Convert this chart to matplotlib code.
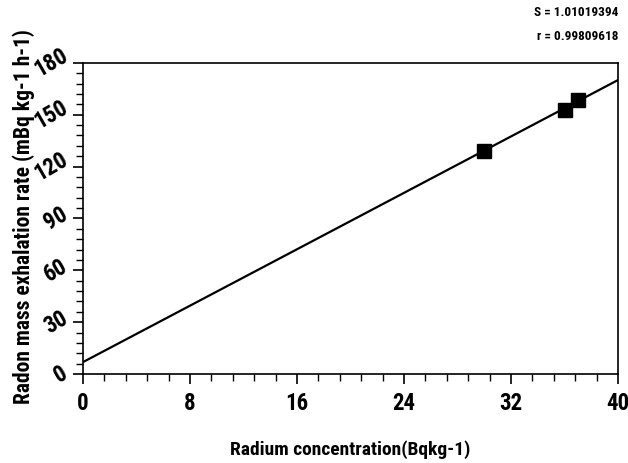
import numpy as np
import matplotlib
matplotlib.use("Agg")
import matplotlib.pyplot as plt
from matplotlib.ticker import MultipleLocator

# measured samples
radium = [30, 36, 37]
exhalation = [129.0, 152.5, 158.5]

# regression line reported with the plot
fit_intercept = 6.9
fit_slope = 4.08
s_value = "1.01019394"
r_value = "0.99809618"

plt.rcParams['font.family'] = ['Roboto Condensed', 'DejaVu Sans']
plt.rcParams['font.stretch'] = 'condensed'
plt.rcParams['font.weight'] = 'bold'

fig = plt.figure(figsize=(6.28, 4.63), dpi=100)
ax = fig.add_axes([0.1322, 0.1922, 0.852, 0.672])

xs = np.array([0, 40])
ax.plot(xs, fit_intercept + fit_slope * xs, color='black', lw=1.6)
ax.plot(radium, exhalation, 's', color='black', markersize=10.5)

ax.set_xlim(0, 40)
ax.set_ylim(0, 180)
ax.xaxis.set_major_locator(MultipleLocator(8))
ax.xaxis.set_minor_locator(MultipleLocator(1.6))
ax.yaxis.set_major_locator(MultipleLocator(30))
ax.yaxis.set_minor_locator(MultipleLocator(6))

ax.tick_params(which='major', direction='out', length=7, width=1.2)
ax.tick_params(which='minor', direction='out', length=5, width=1.0)
ax.tick_params(axis='x', labelsize=16.5, pad=6)
ax.tick_params(axis='y', labelsize=16.5, pad=1)
for lab in ax.get_xticklabels():
    lab.set_fontweight('bold')
for lab in ax.get_yticklabels():
    lab.set_fontweight('bold')
    lab.set_rotation(30)
    lab.set_ha('right')
    lab.set_va('center')

for sp in ax.spines.values():
    sp.set_linewidth(1.2)

ax.set_xlabel('Radium concentration(Bqkg-1)', fontsize=14, fontweight='bold')
ax.xaxis.set_label_coords(0.5, -0.213)
ax.set_ylabel('Radon mass exhalation rate (mBq kg-1 h-1)', fontsize=15.5, fontweight='bold')
ax.yaxis.set_label_coords(-0.09, 0.505)

fig.text(0.984, 0.974, f"S = {s_value}", ha='right', va='center', fontsize=9.5, fontweight='bold')
fig.text(0.984, 0.922, f"r = {r_value}", ha='right', va='center', fontsize=9.5, fontweight='bold')

fig.savefig('out.png', dpi=100)
